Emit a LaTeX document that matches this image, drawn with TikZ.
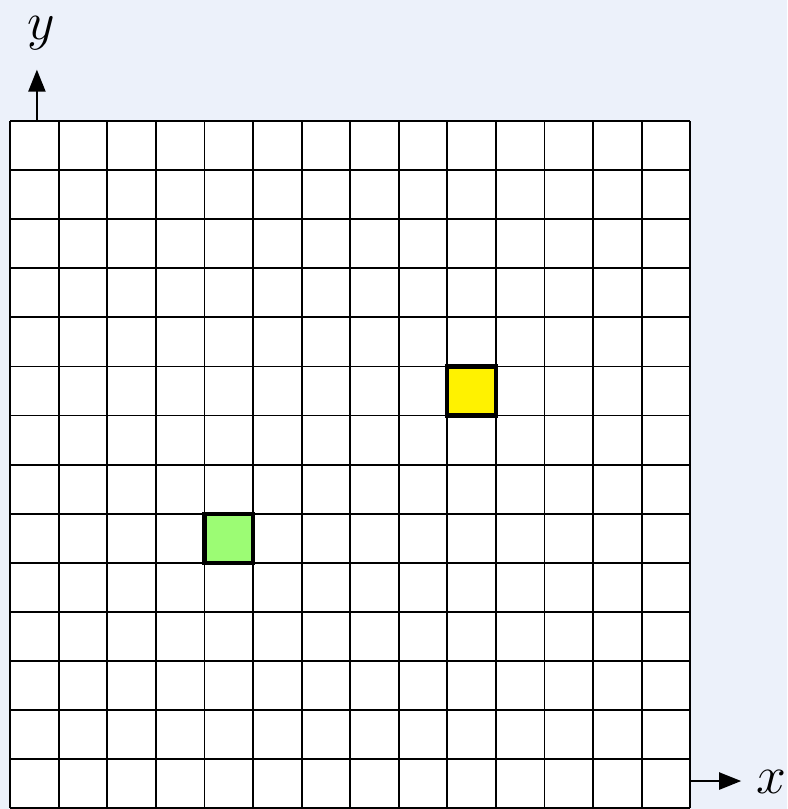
\documentclass[tikz,border=0pt]{standalone}
\usepackage{tikz}
\usetikzlibrary{arrows.meta}
\definecolor{bgblue}{HTML}{ECF1FA}
\definecolor{cellgreen}{HTML}{9CFC74}

\begin{document}
\begin{tikzpicture}[x=0.99cm,y=1cm,
    gridline/.style={draw=black,line width=1.1pt},
    hlcell/.style={draw=black,line width=2.4pt},
    axis/.style={line width=1.1pt,-{Triangle[length=4.5mm,width=3.5mm]}},
    axislabel/.style={font=\Huge,scale=1.25,inner sep=0pt}]
  \fill[bgblue] (-0.21,-0.02) rectangle (16.0,16.47);
  \useasboundingbox (-0.21,-0.02) rectangle (16.0,16.47);
  % white board with the 14x14 grid
  \fill[white] (0,0) rectangle (14,14);
  \foreach \i in {0,...,14} {
    \draw[gridline] (\i,0) -- (\i,14);
    \draw[gridline] (0,\i) -- (14,\i);
  }
  % the two marked cells
  \filldraw[fill=yellow,hlcell] (9,8) rectangle (10,9);
  \filldraw[fill=cellgreen,hlcell] (4,5) rectangle (5,6);
  % axes
  \coordinate (yfoot) at (0.55,14);
  \coordinate (ytip) at (0.55,15.05);
  \draw[axis] (yfoot) -- (ytip);
  \node[axislabel] (ylab) at (0.63,15.8) {$y$};
  \coordinate (xfoot) at (14,0.55);
  \coordinate (xtip) at (15.05,0.55);
  \draw[axis] (xfoot) -- (xtip);
  \node[axislabel] (xlab) at (15.67,0.53) {$x$};
\end{tikzpicture}
\end{document}
